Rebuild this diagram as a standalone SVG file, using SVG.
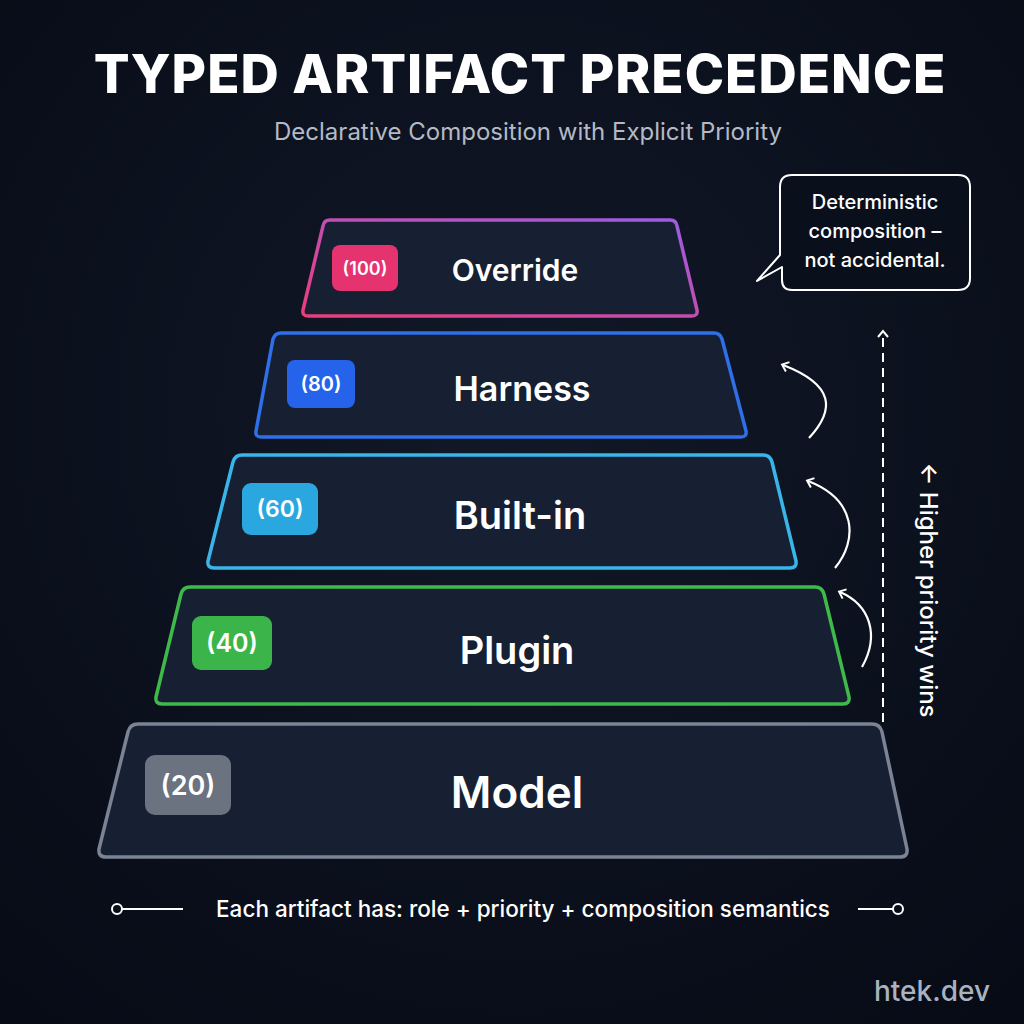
<svg xmlns="http://www.w3.org/2000/svg" width="1024" height="1024" viewBox="0 0 1024 1024">
<defs>
<radialGradient id="bg" cx="50%" cy="40%" r="75%"><stop offset="0" stop-color="#111827"/><stop offset="1" stop-color="#070b16"/></radialGradient>
<linearGradient id="og" x1="0" y1="1" x2="1" y2="0"><stop offset="0" stop-color="#ec3d7a"/><stop offset="1" stop-color="#9b5de5"/></linearGradient>
<marker id="ah" viewBox="0 0 12 12" refX="6" refY="6" markerWidth="12" markerHeight="12" orient="auto-start-reverse" markerUnits="userSpaceOnUse"><path d="M1,1 L7,6 L1,11" fill="none" stroke="#fff" stroke-width="2"/></marker>
</defs>
<style>
.t{font-family:Inter,"Noto Sans","Liberation Sans",sans-serif}
.tier{fill:#172033;stroke-width:3.5;stroke-linejoin:round}
.lbl{fill:#fff;font-weight:600;text-anchor:middle;dominant-baseline:central}
.bt{fill:#fff;font-weight:600;text-anchor:middle;dominant-baseline:central}
.arc{fill:none;stroke:#fff;stroke-width:2.2}
</style>
<rect width="1024" height="1024" fill="url(#bg)"/>
<text class="t" x="520" y="93" font-size="53" font-weight="800" fill="#fff" text-anchor="middle" letter-spacing="1">TYPED ARTIFACT PRECEDENCE</text>
<text class="t" x="528" y="140" font-size="24" fill="#b3bac7" text-anchor="middle">Declarative Composition with Explicit Priority</text>

<g id="override"><path class="tier" d="M330,220 L670,220 Q676,220 677,226 L697,310 Q698,316 692,316 L308,316 Q302,316 303,310 L323,226 Q324,220 330,220 Z" stroke="url(#og)"/><rect x="332" y="245" width="66" height="46" rx="8" fill="#e5336f"/><text class="t bt" x="365" y="268" font-size="18">(100)</text><text class="t lbl" x="515" y="270" font-size="30">Override</text></g>
<g id="harness"><path class="tier" d="M281,333 L714,333 Q720,333 722,339 L746,431 Q747,437 741,437 L261,437 Q255,437 256,431 L273,339 Q275,333 281,333 Z" stroke="#2f6fe8"/><rect x="287" y="360" width="68" height="48" rx="8" fill="#2563eb"/><text class="t bt" x="321" y="384" font-size="20">(80)</text><text class="t lbl" x="522" y="388" font-size="34">Harness</text></g>
<g id="builtin"><path class="tier" d="M242,455 L763,455 Q770,455 772,462 L796,561 Q797,568 790,568 L214,568 Q207,568 208,561 L233,462 Q235,455 242,455 Z" stroke="#38b6ea"/><rect x="242" y="483" width="76" height="52" rx="9" fill="#2aa7df"/><text class="t bt" x="280" y="509" font-size="23">(60)</text><text class="t lbl" x="520" y="515" font-size="38">Built-in</text></g>
<g id="plugin"><path class="tier" d="M190,587 L815,587 Q822,587 824,594 L849,697 Q850,704 843,704 L162,704 Q155,704 156,697 L181,594 Q183,587 190,587 Z" stroke="#3fb94a"/><rect x="192" y="616" width="80" height="54" rx="9" fill="#3bb54a"/><text class="t bt" x="232" y="643" font-size="25">(40)</text><text class="t lbl" x="517" y="650" font-size="38">Plugin</text></g>
<g id="model"><path class="tier" d="M138,724 L872,724 Q880,724 882,732 L907,849 Q908,857 900,857 L106,857 Q98,857 99,849 L128,732 Q130,724 138,724 Z" stroke="#7a8494"/><rect x="145" y="755" width="86" height="60" rx="10" fill="#6b7280"/><text class="t bt" x="188" y="785" font-size="27">(20)</text><text class="t lbl" x="517" y="792" font-size="44">Model</text></g>

<g id="connectors">
<path class="arc" d="M809,438 C835,410 835,385 783,365" marker-end="url(#ah)"/>
<path class="arc" d="M835,568 C858,540 857,500 808,481" marker-end="url(#ah)"/>
<path class="arc" d="M862,667 C880,635 870,605 840,592" marker-end="url(#ah)"/>
<line x1="883" y1="722" x2="883" y2="332" stroke="#fff" stroke-width="2" stroke-dasharray="9,6" marker-end="url(#ah)"/>
</g>
<text class="t" transform="translate(928,590) rotate(90)" font-size="24" font-weight="500" fill="#fff" text-anchor="middle" dominant-baseline="central">← Higher priority wins</text>

<g id="callout">
<path d="M792,175 L958,175 Q970,175 970,187 L970,278 Q970,290 958,290 L792,290 Q782,290 782,280 L782,267 L757,281 L780,255 L780,187 Q780,175 792,175 Z" fill="#0a0f1c" stroke="#fff" stroke-width="2" stroke-linejoin="round"/>
<text class="t" font-size="20" fill="#fff" text-anchor="middle" font-weight="500"><tspan x="875" y="209">Deterministic</tspan><tspan x="875" y="238">composition –</tspan><tspan x="875" y="267">not accidental.</tspan></text>
</g>

<g id="footer" stroke="#fff" stroke-width="2" fill="none">
<circle cx="117" cy="909" r="5"/><line x1="122" y1="909" x2="183" y2="909"/>
<line x1="858" y1="909" x2="893" y2="909"/><circle cx="898" cy="909" r="5"/>
</g>
<text class="t" x="523" y="917" font-size="22.5" fill="#fff" text-anchor="middle" font-weight="500">Each artifact has: role + priority + composition semantics</text>
<text class="t" x="990" y="1001" font-size="28" fill="#aab2c0" text-anchor="end" font-weight="500">htek.dev</text>
</svg>
